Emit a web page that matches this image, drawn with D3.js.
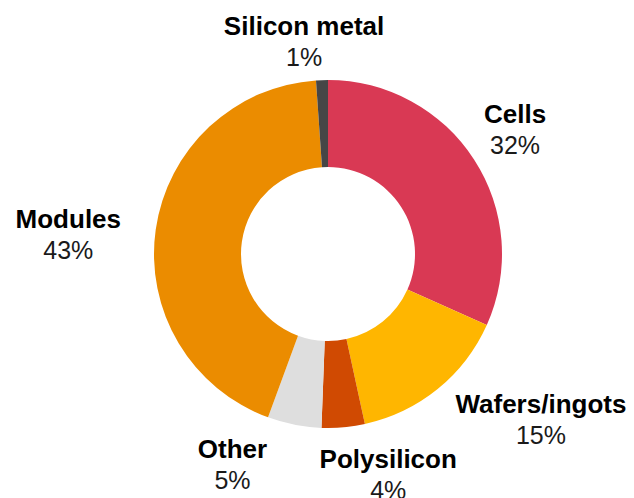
<!DOCTYPE html>
<html>
<head>
<meta charset="utf-8">
<script src="https://cdn.jsdelivr.net/npm/d3@7"></script>
<style>
  html, body { margin: 0; padding: 0; background: #fff; }
  svg { display: block; }
</style>
</head>
<body>
<svg id="chart" width="634" height="498"></svg>
<script>
// Data (clockwise from 12 o'clock)
const categories = ["Cells", "Wafers/ingots", "Polysilicon", "Other", "Modules", "Silicon metal"];
const shares = [31.7, 14.9, 4.0, 5.0, 43.3, 1.1];
const colors = ["#D93954", "#FFB600", "#D04A02", "#DEDEDE", "#EB8C00", "#464646"];
// Label nudges relative to the outer label arc centroid
const labelNudge = [[-6, 0], [68, -14], [40, -9], [-51, -16], [-32, 12], [-16, 17]];

const W = 634, H = 498;
const cx = 328, cy = 254;
const outerR = 174, innerR = 87, labelR = 230;

const svg = d3.select("#chart");
const g = svg.append("g").attr("transform", `translate(${cx},${cy})`);

const data = categories.map((c, i) => ({ name: c, value: shares[i], color: colors[i], nudge: labelNudge[i] }));

const pie = d3.pie().value(d => d.value).sort(null);
const arc = d3.arc().innerRadius(innerR).outerRadius(outerR);
const labelArc = d3.arc().innerRadius(labelR).outerRadius(labelR);

const arcs = pie(data);

g.selectAll("path.slice")
  .data(arcs)
  .join("path")
  .attr("class", "slice")
  .attr("d", arc)
  .attr("fill", d => d.data.color);

const labels = g.selectAll("text.lbl")
  .data(arcs)
  .join("text")
  .attr("class", "lbl")
  .attr("text-anchor", "middle")
  .attr("font-family", "'Liberation Sans', Arial, sans-serif")
  .attr("transform", d => {
    const [x, y] = labelArc.centroid(d);
    return `translate(${x + d.data.nudge[0]},${y + d.data.nudge[1]})`;
  });

labels.append("tspan")
  .attr("x", 0)
  .attr("y", -6)
  .attr("font-weight", "bold")
  .attr("font-size", 26)
  .attr("fill", "#000")
  .text(d => d.data.name);

labels.append("tspan")
  .attr("x", 0)
  .attr("y", 25)
  .attr("font-size", 25)
  .attr("fill", "#1a1a1a")
  .text(d => Math.round(d.data.value) + "%");
</script>
</body>
</html>
